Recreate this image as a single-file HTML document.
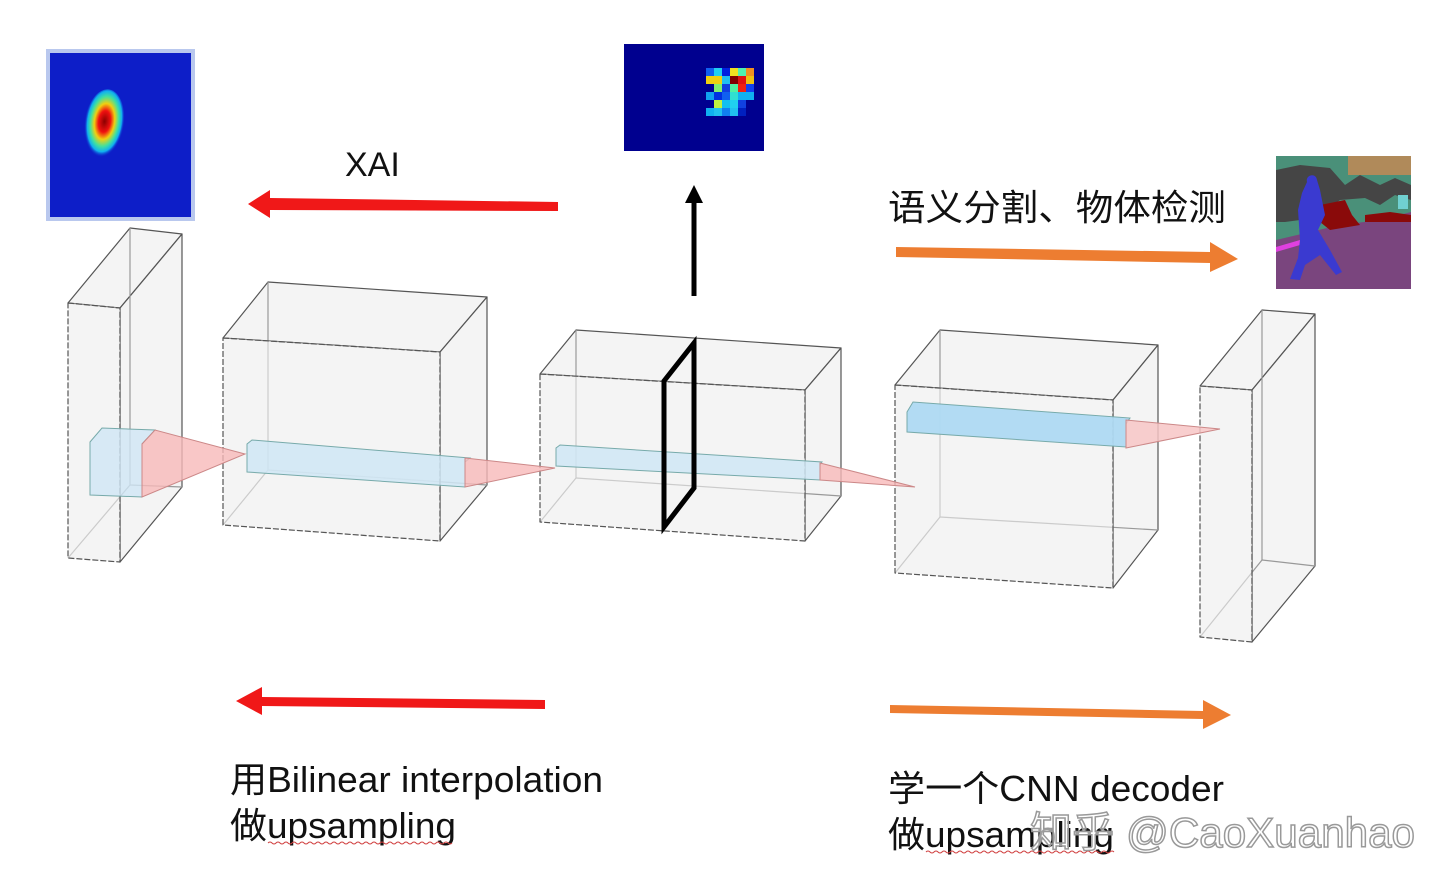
<!DOCTYPE html>
<html><head><meta charset="utf-8"><style>
html,body{margin:0;padding:0;background:#fff;}
svg{display:block}
text{font-family:"Liberation Sans Narrow","Liberation Sans","Noto Sans CJK SC",sans-serif;fill:#111}
</style></head><body>
<svg width="1452" height="888" viewBox="0 0 1452 888" xmlns="http://www.w3.org/2000/svg">
<defs>
<radialGradient id="blob" cx="0.5" cy="0.45" r="0.5">
<stop offset="0" stop-color="#8a0000"/><stop offset="0.3" stop-color="#f01010"/><stop offset="0.5" stop-color="#f0d010"/><stop offset="0.7" stop-color="#40e0a0"/><stop offset="0.85" stop-color="#10b0f0"/><stop offset="1" stop-color="#0d1ec8" stop-opacity="0"/>
</radialGradient>
</defs>
<g stroke="#555" stroke-width="1.2" fill="#ececec" fill-opacity="0.6" stroke-linejoin="round">
<polygon points="68,303 130,228 182,234 120,308"/>
<polygon points="120,308 182,234 182,487 120,562"/>
<line x1="130" y1="228" x2="130" y2="485" stroke="#999"/><line x1="130" y1="485" x2="182" y2="487" stroke="#999"/><line x1="130" y1="485" x2="68" y2="558" stroke="#999"/>
<polygon points="68,303 120,308 120,562 68,558" stroke-dasharray="6 2"/>
<polygon points="223,338 268,282 487,297 440,352"/>
<polygon points="440,352 487,297 487,485 440,541"/>
<line x1="268" y1="282" x2="268" y2="470" stroke="#999"/><line x1="268" y1="470" x2="487" y2="485" stroke="#999"/><line x1="268" y1="470" x2="223" y2="525" stroke="#999"/>
<polygon points="223,338 440,352 440,541 223,525" stroke-dasharray="6 2"/>
<polygon points="540,374 576,330 841,348 805,390"/>
<polygon points="805,390 841,348 841,496 805,541"/>
<line x1="576" y1="330" x2="576" y2="478" stroke="#999"/><line x1="576" y1="478" x2="841" y2="496" stroke="#999"/><line x1="576" y1="478" x2="540" y2="522" stroke="#999"/>
<polygon points="540,374 805,390 805,541 540,522" stroke-dasharray="6 2"/>
<polygon points="895,385 940,330 1158,345 1113,400"/>
<polygon points="1113,400 1158,345 1158,530 1113,588"/>
<line x1="940" y1="330" x2="940" y2="517" stroke="#999"/><line x1="940" y1="517" x2="1158" y2="530" stroke="#999"/><line x1="940" y1="517" x2="895" y2="573" stroke="#999"/>
<polygon points="895,385 1113,400 1113,588 895,573" stroke-dasharray="6 2"/>
<polygon points="1200,386 1262,310 1315,314 1252,390"/>
<polygon points="1252,390 1315,314 1315,566 1252,642"/>
<line x1="1262" y1="310" x2="1262" y2="560" stroke="#999"/><line x1="1262" y1="560" x2="1315" y2="566" stroke="#999"/><line x1="1262" y1="560" x2="1200" y2="637" stroke="#999"/>
<polygon points="1200,386 1252,390 1252,642 1200,637" stroke-dasharray="6 2"/>
</g>
<g stroke="#7aa" stroke-width="1">
<polygon points="90,442 102,428 155,430 142,444 142,497 90,495" fill="#cfe6f5" fill-opacity="0.8"/>
<polygon points="142,444 155,430 245,454 142,497" fill="#f7b9b9" fill-opacity="0.8" stroke="#c88"/>
<polygon points="247,444 252,440 470,458 465,462 465,487 247,472" fill="#cfe6f5" fill-opacity="0.85"/>
<polygon points="465,458 555,468 465,487" fill="#f7b9b9" fill-opacity="0.8" stroke="#c88"/>
<polygon points="556,448 560,445 822,462 820,465 820,480 556,466" fill="#cfe6f5" fill-opacity="0.85"/>
<polygon points="820,463 915,487 820,480" fill="#f7b9b9" fill-opacity="0.8" stroke="#c88"/>
<polygon points="907,412 913,402 1130,418 1126,424 1126,447 907,432" fill="#aed9f2" fill-opacity="0.95"/>
<polygon points="1126,420 1220,429 1126,448" fill="#f7c6c6" fill-opacity="0.85" stroke="#c88"/>
</g>
<polygon points="664,381 694,343 694,488 664,527" fill="none" stroke="#000" stroke-width="5" stroke-linejoin="miter"/>
<line x1="694" y1="296" x2="694" y2="200" stroke="#000" stroke-width="5"/>
<polygon points="685,203 694,185 703,203" fill="#000"/>
<rect x="46" y="49" width="149" height="172" fill="#b9c8ee"/>
<rect x="50" y="53" width="141" height="164" fill="#0d1ec8"/>
<ellipse cx="104" cy="125" rx="20" ry="36" fill="url(#blob)" transform="rotate(8 104 125)"/>
<rect x="624" y="44" width="140" height="107" fill="#00008f"/>
<g>
<rect x="706" y="68" width="8" height="8" fill="#1060f0"/><rect x="714" y="68" width="8" height="8" fill="#20d0f0"/><rect x="722" y="68" width="8" height="8" fill="#0020e0"/><rect x="730" y="68" width="8" height="8" fill="#f0e020"/><rect x="738" y="68" width="8" height="8" fill="#50f0b0"/><rect x="746" y="68" width="8" height="8" fill="#f09020"/>
<rect x="706" y="76" width="8" height="8" fill="#f0d010"/><rect x="714" y="76" width="8" height="8" fill="#f0d010"/><rect x="722" y="76" width="8" height="8" fill="#20c0f0"/><rect x="730" y="76" width="8" height="8" fill="#800000"/><rect x="738" y="76" width="8" height="8" fill="#e01010"/><rect x="746" y="76" width="8" height="8" fill="#f0c010"/>
<rect x="714" y="84" width="8" height="8" fill="#80f070"/><rect x="722" y="84" width="8" height="8" fill="#1040e0"/><rect x="730" y="84" width="8" height="8" fill="#50f0a0"/><rect x="738" y="84" width="8" height="8" fill="#f02010"/><rect x="746" y="84" width="8" height="8" fill="#1040f0"/>
<rect x="706" y="92" width="8" height="8" fill="#10a0f0"/><rect x="714" y="92" width="8" height="8" fill="#0030e0"/><rect x="722" y="92" width="8" height="8" fill="#1060f0"/><rect x="730" y="92" width="8" height="8" fill="#30e0d0"/><rect x="738" y="92" width="8" height="8" fill="#10b0f0"/><rect x="746" y="92" width="8" height="8" fill="#10b0f0"/>
<rect x="714" y="100" width="8" height="8" fill="#c0f040"/><rect x="722" y="100" width="8" height="8" fill="#10c0f0"/><rect x="730" y="100" width="8" height="8" fill="#20d0f0"/><rect x="738" y="100" width="8" height="8" fill="#1040e0"/>
<rect x="706" y="108" width="8" height="8" fill="#10b0f0"/><rect x="714" y="108" width="8" height="8" fill="#20c0f0"/><rect x="722" y="108" width="8" height="8" fill="#1080f0"/><rect x="730" y="108" width="8" height="8" fill="#20c0f0"/><rect x="738" y="108" width="8" height="8" fill="#0020c0"/>
</g>
<g>
<rect x="1276" y="156" width="135" height="133" fill="#4a9079"/>
<rect x="1348" y="156" width="63" height="19" fill="#b08a5a"/>
<path d="M1276,170 L1300,165 L1330,168 L1345,185 L1360,175 L1380,185 L1395,178 L1411,185 L1411,200 L1395,195 L1380,205 L1365,198 L1340,200 L1320,215 L1300,220 L1285,222 L1276,222Z" fill="#454545"/>
<path d="M1276,240 L1310,232 L1340,225 L1380,220 L1411,212 L1411,289 L1276,289Z" fill="#7a457e"/>
<path d="M1320,205 L1345,200 L1352,215 L1360,225 L1330,230 L1320,222Z" fill="#8a0a0a"/>
<path d="M1365,215 L1390,212 L1411,215 L1411,222 L1365,222Z" fill="#8a0a0a"/>
<rect x="1398" y="195" width="10" height="14" fill="#70d0d0"/>
<path d="M1276,247 L1300,240 L1300,245 L1276,252Z" fill="#e040e0"/>
<path d="M1307,182 C1305,175 1316,172 1317,180 L1320,190 L1325,215 L1318,230 L1330,250 L1342,272 L1336,275 L1320,255 L1305,265 L1300,280 L1290,279 L1298,258 L1300,240 L1298,210 L1302,193Z" fill="#3a3ad0"/>
</g>
<g fill="#f01818">
<polygon points="558,202 270,198 270,190 248,204 270,218 270,210 558,211"/>
<polygon points="545,700 262,697 262,687 236,701 262,715 262,706 545,709"/>
</g>
<g fill="#ed7d31">
<polygon points="896,247 1210,252 1210,242 1238,259 1210,272 1210,263 896,257"/>
<polygon points="890,705 1203,711 1203,700 1231,715 1203,729 1203,719 890,713"/>
</g>
<text x="345" y="176" font-size="34" style="font-family:'Liberation Sans',sans-serif">XAI</text>
<text x="888" y="220" font-size="36" textLength="338" lengthAdjust="spacingAndGlyphs">语义分割、物体检测</text>
<text x="230" y="792" font-size="36" textLength="373" lengthAdjust="spacingAndGlyphs">用Bilinear interpolation</text>
<text x="230" y="838" font-size="36" textLength="226" lengthAdjust="spacingAndGlyphs">做upsampling</text>
<text x="888" y="801" font-size="36" textLength="336" lengthAdjust="spacingAndGlyphs">学一个CNN decoder</text>
<text x="888" y="847" font-size="36" textLength="226" lengthAdjust="spacingAndGlyphs">做upsampling</text>
<path d="M268,843 q2,-2 4,0 t4,0 t4,0 t4,0 t4,0 t4,0 t4,0 t4,0 t4,0 t4,0 t4,0 t4,0 t4,0 t4,0 t4,0 t4,0 t4,0 t4,0 t4,0 t4,0 t4,0 t4,0 t4,0 t4,0 t4,0 t4,0 t4,0 t4,0 t4,0 t4,0 t4,0 t4,0 t4,0 t4,0 t4,0 t4,0 t4,0 t4,0 t4,0 t4,0 t4,0 t4,0 t4,0 t4,0 t4,0 t4,0" fill="none" stroke="#d04040" stroke-width="1"/>
<path d="M926,852 q2,-2 4,0 t4,0 t4,0 t4,0 t4,0 t4,0 t4,0 t4,0 t4,0 t4,0 t4,0 t4,0 t4,0 t4,0 t4,0 t4,0 t4,0 t4,0 t4,0 t4,0 t4,0 t4,0 t4,0 t4,0 t4,0 t4,0 t4,0 t4,0 t4,0 t4,0 t4,0 t4,0 t4,0 t4,0 t4,0 t4,0 t4,0 t4,0 t4,0 t4,0 t4,0 t4,0 t4,0 t4,0 t4,0 t4,0 t4,0" fill="none" stroke="#d04040" stroke-width="1"/>
<text x="1030" y="847" font-size="42" textLength="385" lengthAdjust="spacingAndGlyphs" style="fill:#ffffff;fill-opacity:0.6;stroke:#999;stroke-width:1.5;font-family:'Liberation Sans','Noto Sans CJK SC',sans-serif">知乎 @CaoXuanhao</text>
</svg>
</body></html>
